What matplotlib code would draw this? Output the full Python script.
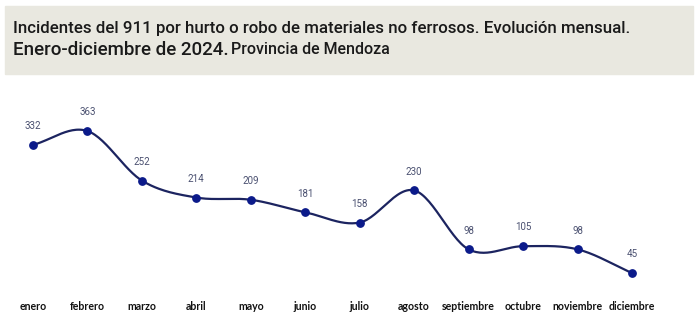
import numpy as np
import matplotlib.pyplot as plt
from matplotlib.patches import Rectangle

meses = ["enero", "febrero", "marzo", "abril", "mayo", "junio", "julio",
         "agosto", "septiembre", "octubre", "noviembre", "diciembre"]
incidentes = [332, 363, 252, 214, 209, 181, 158, 230, 98, 105, 98, 45]

title_font = "Roboto"


def catmull_rom(x, y, n=30):
    # smooth curve through every point
    px = np.concatenate([[2 * x[0] - x[1]], x, [2 * x[-1] - x[-2]]])
    py = np.concatenate([[2 * y[0] - y[1]], y, [2 * y[-1] - y[-2]]])
    xs, ys = [], []
    t = np.linspace(0, 1, n)
    for i in range(1, len(px) - 2):
        for p, out in ((px, xs), (py, ys)):
            p0, p1, p2, p3 = p[i - 1], p[i], p[i + 1], p[i + 2]
            out.extend(0.5 * (2 * p1 + (-p0 + p2) * t
                              + (2 * p0 - 5 * p1 + 4 * p2 - p3) * t ** 2
                              + (-p0 + 3 * p1 - 3 * p2 + p3) * t ** 3))
    return np.array(xs), np.array(ys)


fig = plt.figure(figsize=(7, 3.28), dpi=100)

# header box
fig.patches.append(Rectangle((5 / 700, 1 - 74 / 328), 688 / 700, 68 / 328,
                             transform=fig.transFigure, color="#e9e8e0", zorder=0))
fig.text(13 / 700, 1 - 29 / 328,
         "Incidentes del 911 por hurto o robo de materiales no ferrosos. Evolución mensual.",
         family=title_font, fontsize=12.2, fontweight="medium", color="#1a1a1a", va="center")
t1 = fig.text(13 / 700, 1 - 50 / 328, "Enero-diciembre de 2024.",
              family=title_font, fontsize=13.5, fontweight="medium", color="#1a1a1a", va="center")
fig.canvas.draw()
bb = t1.get_window_extent()
fig.text(bb.x1 / 700 + 0.004, 1 - 50 / 328, "Provincia de Mendoza",
         family=title_font, fontsize=11.5, fontweight="medium", color="#1a1a1a", va="center")

ax = fig.add_axes([0, 33 / 328, 1, 200 / 328])
x = np.arange(len(meses))
sx, sy = catmull_rom(x.astype(float), np.array(incidentes, dtype=float))
ax.plot(sx, sy, color="#1c2460", lw=1.6, zorder=2)
ax.scatter(x, incidentes, s=28, color="#0b1a8a", zorder=3)
for xi, v in zip(x, incidentes):
    ax.annotate(str(v), (xi, v), xytext=(0, 13.5), textcoords="offset points",
                ha="center", va="center", fontsize=7, color="#4a5070",
                family="Roboto")

ax.set_xlim(-33 / 54.45, 667 / 54.45)
ax.set_ylim(-4.3, 443.7)
ax.set_xticks(x)
ax.set_xticklabels(meses, fontsize=7.6, fontweight="bold", family="Lato", color="#111111")
ax.tick_params(axis="x", length=0, pad=4.5)
ax.set_yticks([])
for s in ax.spines.values():
    s.set_visible(False)

fig.savefig("out.png", dpi=100)
